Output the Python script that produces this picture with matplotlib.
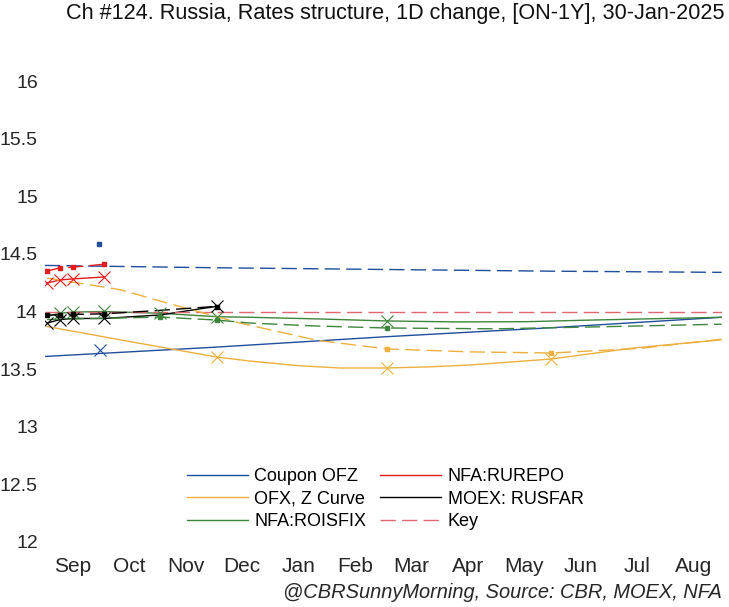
import matplotlib
matplotlib.use("Agg")
import matplotlib.pyplot as plt

plt.rc('font', family='Liberation Sans', size=15)

# x is month position on the axis (Sep = 1 ... Aug = 12)
months = ["Sep", "Oct", "Nov", "Dec", "Jan", "Feb", "Mar", "Apr", "May", "Jun", "Jul", "Aug"]
yticks = [12, 12.5, 13, 13.5, 14, 14.5, 15, 15.5, 16]

# Coupon OFZ
ofz_x = [0.5, 3.5, 6.5, 9.5, 12.5]
ofz_y = [13.61, 13.69, 13.78, 13.86, 13.95]
ofz_prev_y = [14.40, 14.38, 14.365, 14.35, 14.34]
ofz_pts_x = [1.48]
ofz_pts_y = [13.665]
ofz_prev_pts_x = [1.46]
ofz_prev_pts_y = [14.585]

# OFZ, Z curve
zc_x = [0.54, 2.0, 3.55, 4.14, 5.0, 5.73, 6.57, 7.33, 8.04, 9.48, 10.93, 12.5]
zc_y = [13.87, 13.74, 13.605, 13.57, 13.53, 13.51, 13.51, 13.52, 13.536, 13.588, 13.683, 13.755]
zc_prev_x = [0.54, 1.83, 2.77, 3.96, 5.33, 6.57, 8.04, 9.48, 11.05, 12.5]
zc_prev_y = [14.29, 14.19, 14.06, 13.90, 13.75, 13.675, 13.65, 13.64, 13.68, 13.76]
zc_pts_x = [3.55, 6.57, 9.48]
zc_pts_y = [13.605, 13.51, 13.588]
zc_prev_pts_x = [6.57, 9.48]
zc_prev_pts_y = [13.675, 13.64]

# NFA:ROISFIX
rois_x = [0.54, 0.77, 1.0, 1.55, 2.54, 3.55, 4.14, 5.4, 6.57, 7.8, 9.05, 10.2, 12.5]
rois_y = [13.96, 13.985, 13.995, 14.0, 13.985, 13.955, 13.95, 13.935, 13.918, 13.91, 13.912, 13.926, 13.95]
rois_prev_x = [0.54, 2.54, 3.55, 4.14, 5.33, 6.57, 8.5, 10.2, 12.5]
rois_prev_y = [13.93, 13.952, 13.926, 13.90, 13.874, 13.857, 13.85, 13.866, 13.89]
rois_pts_x = [0.77, 1.0, 1.55, 2.54, 3.55, 6.57]
rois_pts_y = [13.99, 13.995, 14.004, 13.987, 13.952, 13.918]
rois_prev_pts_x = [2.54, 3.55, 6.57]
rois_prev_pts_y = [13.952, 13.926, 13.857]

# NFA:RUREPO
repo_x = [0.54, 0.77, 1.0, 1.55]
repo_y = [14.247, 14.274, 14.283, 14.30]
repo_prev_y = [14.35, 14.38, 14.385, 14.41]

# MOEX: RUSFAR
rusfar_x = [0.54, 0.77, 1.0, 1.55, 2.54, 3.55]
rusfar_y = [13.90, 13.93, 13.94, 13.94, 13.97, 14.045]
rusfar_prev_y = [13.97, 13.97, 13.975, 13.98, 14.01, 14.045]
rusfar_pts_x = [0.54, 0.77, 1.0, 1.55, 3.55]
rusfar_pts_y = [13.90, 13.93, 13.94, 13.94, 14.05]
rusfar_prev_pts_x = [0.54, 0.77, 1.0, 1.55, 3.55]
rusfar_prev_pts_y = [13.97, 13.97, 13.975, 13.98, 14.04]

# Key rate
key_x = [0.5, 12.5]
key_y = [14.0, 14.0]

c_blue = '#1f4e9c'
c_orange = '#edb03f'
c_green = '#3d853d'
c_red = '#e41a1c'
c_black = '#000000'
c_key = '#e06670'

fig = plt.figure(figsize=(7.29, 6.07), dpi=100)
ax = fig.add_axes([44.8 / 729, 65 / 607, 676.8 / 729, 484 / 607])

lw = 1.0
dash = (11, 4.5)
xkw = dict(marker='x', markersize=9, markeredgewidth=0.8, linestyle='none')
skw = dict(marker='s', markersize=3.5, linestyle='none')

# solid = today, dashed = previous day
ax.plot(ofz_x, ofz_y, color=c_blue, lw=lw, label="Coupon OFZ")
ax.plot(zc_x, zc_y, color=c_orange, lw=lw, label="OFX, Z Curve")
ax.plot(rois_x, rois_y, color=c_green, lw=lw, label="NFA:ROISFIX")
ax.plot(repo_x, repo_y, color=c_red, lw=lw, label="NFA:RUREPO")
ax.plot(rusfar_x, rusfar_y, color=c_black, lw=lw, label="MOEX: RUSFAR")
ax.plot(key_x, key_y, color=c_key, lw=lw, dashes=dash, label="Key")

ax.plot(ofz_x, ofz_prev_y, color=c_blue, lw=lw, dashes=dash)
ax.plot(zc_prev_x, zc_prev_y, color=c_orange, lw=lw, dashes=dash)
ax.plot(rois_prev_x, rois_prev_y, color=c_green, lw=lw, dashes=dash)
ax.plot(repo_x, repo_prev_y, color=c_red, lw=lw, dashes=dash)
ax.plot(rusfar_x, rusfar_prev_y, color=c_black, lw=lw, dashes=dash)

ax.plot(ofz_pts_x, ofz_pts_y, color=c_blue, **xkw)
ax.plot(zc_pts_x, zc_pts_y, color=c_orange, **xkw)
ax.plot(rois_pts_x, rois_pts_y, color=c_green, **xkw)
ax.plot(repo_x, repo_y, color=c_red, **xkw)
ax.plot(rusfar_pts_x, rusfar_pts_y, color=c_black, **xkw)

ax.plot(ofz_prev_pts_x, ofz_prev_pts_y, color=c_blue, **skw)
ax.plot(zc_prev_pts_x, zc_prev_pts_y, color=c_orange, **skw)
ax.plot(rois_prev_pts_x, rois_prev_pts_y, color=c_green, **skw)
ax.plot(repo_x, repo_prev_y, color=c_red, **skw)
ax.plot(rusfar_prev_pts_x, rusfar_prev_pts_y, color=c_black, **skw)

ax.set_xlim(0.5, 12.5)
ax.set_ylim(12, 16.2)
ax.set_xticks(range(1, 13))
ax.set_xticklabels(months)
ax.set_yticks(yticks)
ax.set_yticklabels([f"{v:g}" for v in yticks])
ax.tick_params(axis='both', length=0, colors='#262626')
ax.tick_params(axis='x', pad=11, labelsize=15)
ax.tick_params(axis='y', pad=5, labelsize=14)
for s in ax.spines.values():
    s.set_visible(False)

fig.legend(loc='center', bbox_to_anchor=(385 / 729, 1 - 499 / 607), ncol=2,
           frameon=False, fontsize=13, handlelength=3.4, handletextpad=0.35,
           columnspacing=0.75, labelspacing=0.3)

fig.text(725 / 729, 1 - 13 / 607, "Ch #124. Russia, Rates structure, 1D change, [ON-1Y], 30-Jan-2025",
         ha='right', va='center', fontsize=15.6, color='#111111')
fig.text(722 / 729, 1 - 592 / 607, "@CBRSunnyMorning, Source: CBR, MOEX, NFA",
         ha='right', va='center', fontsize=14.4, style='italic', color='#262626')

plt.savefig("out.png")
